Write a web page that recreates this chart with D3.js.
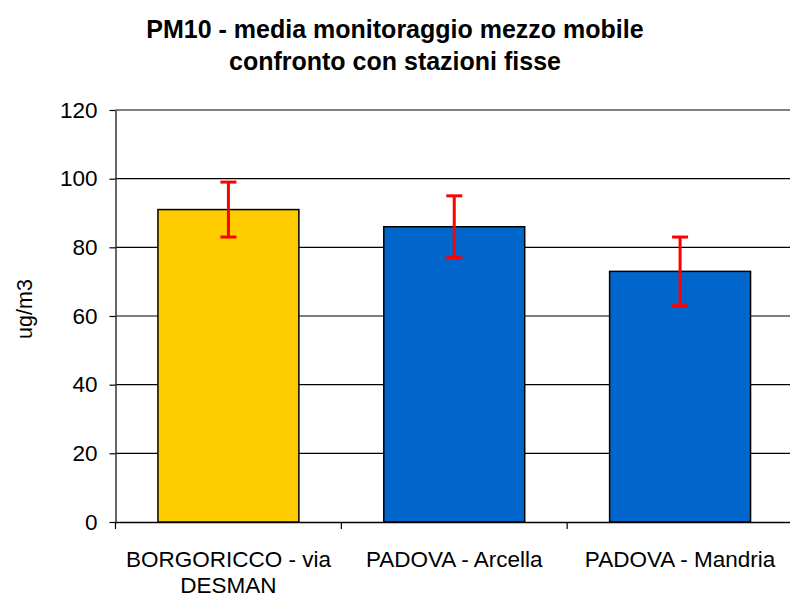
<!DOCTYPE html>
<html><head><meta charset="utf-8">
<script src="https://cdn.jsdelivr.net/npm/d3@7"></script>
<style>body{margin:0;background:#fff}svg{display:block}text{font-family:"Liberation Sans",Arial,sans-serif}</style>
</head><body><svg id="c" width="790" height="597"></svg>
<script>
const categories = ["BORGORICCO - via DESMAN", "PADOVA - Arcella", "PADOVA - Mandria"];
const categoryLines = [["BORGORICCO - via", "DESMAN"], ["PADOVA - Arcella"], ["PADOVA - Mandria"]];
const values = [91, 86, 73];
const errors = [8, 9, 10];
const colors = ["#FFCC00", "#0066CC", "#0066CC"];
const yTicks = [0, 20, 40, 60, 80, 100, 120];
const titleLines = ["PM10 - media monitoraggio mezzo mobile", "confronto con stazioni fisse"];
const yLabel = "ug/m3";

(function () {
const svg = d3.select("#c");
const pL = 115.5, pR = 793, pT = 110, pB = 522;
const x = d3.scaleBand().domain(categories).range([pL, pR]).padding(0);
const y = d3.scaleLinear().domain([0, 120]).range([pB, pT]);
const barW = x.bandwidth() * 0.624;

// gridlines
svg.append("g").selectAll("line").data(yTicks.filter(d => d > 0)).join("line")
  .attr("x1", pL).attr("x2", pR)
  .attr("y1", d => y(d)).attr("y2", d => y(d))
  .attr("stroke", d => d === 120 ? "#808080" : "#000")
  .attr("stroke-width", d => d === 120 ? 2 : 1.2);

// y axis
const ya = svg.append("g").attr("transform", `translate(${pL},0)`)
  .call(d3.axisLeft(y).tickValues(yTicks).tickSize(6).tickPadding(12).tickSizeOuter(0));
ya.select(".domain").attr("stroke", "#333").attr("stroke-width", 1.5);
ya.selectAll(".tick line").attr("stroke", "#000").attr("stroke-width", 1.2);
ya.selectAll(".tick text").attr("font-size", "22.5px").attr("fill", "#000")
  .style("font-family", '"Liberation Sans",Arial,sans-serif');

// x axis
const xa = svg.append("g").attr("transform", `translate(0,${pB})`)
  .call(d3.axisBottom(x).tickSize(0).tickFormat(""));
xa.select(".domain").attr("stroke", "#000").attr("stroke-width", 1.5);
xa.selectAll(".tick").remove();
const bounds = [0, 1, 2, 3].map(i => i < 3 ? x(categories[i]) : x(categories[2]) + x.bandwidth());
svg.append("g").selectAll("line").data(bounds).join("line")
  .attr("x1", d => d).attr("x2", d => d).attr("y1", pB).attr("y2", pB + 7)
  .attr("stroke", "#000").attr("stroke-width", 1.2);

// bars
svg.append("g").selectAll("rect").data(values).join("rect")
  .attr("x", (d, i) => x(categories[i]) + x.bandwidth() / 2 - barW / 2)
  .attr("y", d => y(d))
  .attr("width", barW)
  .attr("height", d => y(0) - y(d))
  .attr("fill", (d, i) => colors[i])
  .attr("stroke", "#000").attr("stroke-width", 1.5);

// error bars
const eg = svg.append("g").attr("stroke", "#FF0000").attr("stroke-width", 3);
values.forEach((v, i) => {
  const cx = x(categories[i]) + x.bandwidth() / 2;
  eg.append("line").attr("x1", cx).attr("x2", cx).attr("y1", y(v + errors[i])).attr("y2", y(v - errors[i]));
  eg.append("line").attr("x1", cx - 8).attr("x2", cx + 8).attr("y1", y(v + errors[i])).attr("y2", y(v + errors[i]));
  eg.append("line").attr("x1", cx - 8).attr("x2", cx + 8).attr("y1", y(v - errors[i])).attr("y2", y(v - errors[i]));
});

// category labels
categories.forEach((c, i) => {
  const cx = x(c) + x.bandwidth() / 2;
  const t = svg.append("text").attr("text-anchor", "middle").attr("font-size", "22.5px").attr("fill", "#000");
  categoryLines[i].forEach((ln, j) => {
    t.append("tspan").attr("x", cx).attr("y", 566.5 + j * 26.7).text(ln);
  });
});

// title
titleLines.forEach((ln, j) => {
  svg.append("text").attr("x", 395).attr("y", 37.5 + j * 32)
    .attr("text-anchor", "middle").attr("font-size", "25px").attr("font-weight", "bold")
    .attr("fill", "#000").text(ln);
});

// y label
svg.append("text").attr("transform", "translate(32,309) rotate(-90)")
  .attr("text-anchor", "middle").attr("font-size", "21.5px").attr("fill", "#000").text(yLabel);
})();
</script></body></html>
